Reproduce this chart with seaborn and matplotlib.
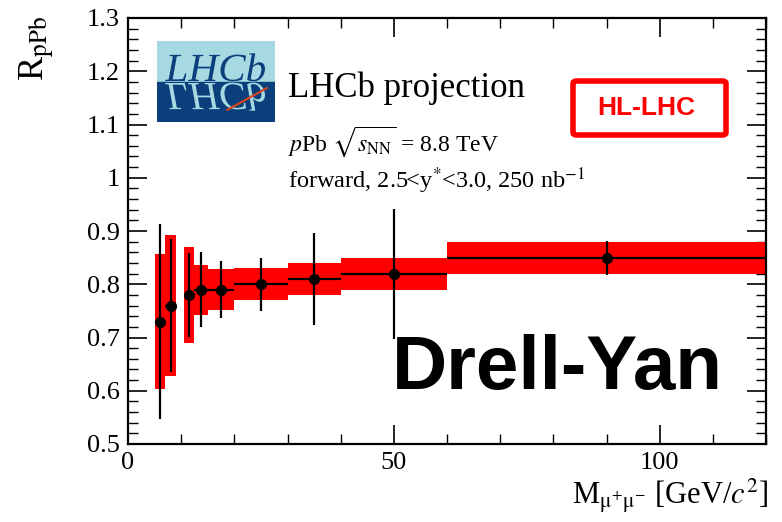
import numpy as np
import pandas as pd
import matplotlib
matplotlib.use("Agg")
import matplotlib.pyplot as plt
import seaborn as sns
from matplotlib.patches import Rectangle, FancyBboxPatch, PathPatch
from matplotlib.textpath import TextPath
from matplotlib.font_manager import FontProperties
from matplotlib.ticker import MultipleLocator
import matplotlib.transforms as mtransforms

# ---- data ----
mass = [6.0, 8.0, 11.5, 13.7, 17.5, 25.0, 35.0, 50.0, 90.0]
bin_lo = [5.0, 7.0, 10.5, 12.5, 15.0, 20.0, 30.0, 40.0, 60.0]
bin_hi = [7.0, 9.0, 12.5, 15.0, 20.0, 30.0, 40.0, 60.0, 120.0]
rppb = [0.73, 0.76, 0.78, 0.79, 0.79, 0.80, 0.81, 0.82, 0.85]
stat_err = [0.183, 0.125, 0.079, 0.070, 0.053, 0.050, 0.086, 0.122, 0.032]
syst_err = [0.127, 0.132, 0.090, 0.047, 0.038, 0.030, 0.030, 0.030, 0.030]

df = pd.DataFrame({"mass": mass, "lo": bin_lo, "hi": bin_hi, "r": rppb,
                   "stat": stat_err, "syst": syst_err})

sns.set_theme(style="ticks")
plt.rcParams["font.family"] = ["Liberation Serif", "DejaVu Serif"]
plt.rcParams["mathtext.fontset"] = "stix"
plt.rcParams["text.color"] = "black"
plt.rcParams["xtick.color"] = "black"
plt.rcParams["ytick.color"] = "black"
plt.rcParams["xtick.labelcolor"] = "black"
plt.rcParams["ytick.labelcolor"] = "black"

fig = plt.figure(figsize=(7.82, 5.22), dpi=100)
ax = fig.add_axes([128/782, 78/522, (766-128)/782, (444-18)/522])

# systematic boxes
ax.bar(df["lo"], 2*df["syst"], width=df["hi"]-df["lo"], bottom=df["r"]-df["syst"],
       align="edge", color="#ff0000", edgecolor="none", zorder=1)
# stat error bars and bin widths
ax.errorbar(df["mass"], df["r"], yerr=df["stat"],
            xerr=[df["mass"]-df["lo"], df["hi"]-df["mass"]],
            fmt="none", ecolor="black", elinewidth=1.6, capsize=0, zorder=2)
sns.scatterplot(data=df, x="mass", y="r", ax=ax, color="black", s=55,
                edgecolor="black", zorder=3, legend=False)

ax.set_xlim(0, 120)
ax.set_ylim(0.5, 1.3)
ax.xaxis.set_major_locator(MultipleLocator(50))
ax.xaxis.set_minor_locator(MultipleLocator(10))
ax.yaxis.set_major_locator(MultipleLocator(0.1))
ax.yaxis.set_minor_locator(MultipleLocator(0.02))
ax.tick_params(which="both", direction="in", top=True, right=True, color="black",
               labelcolor="black")
ax.tick_params(which="major", length=14, width=1.2, labelsize=19, pad=6)
ax.tick_params(which="minor", length=7, width=1.0)
for s in ax.spines.values():
    s.set_linewidth(1.6)
    s.set_color("black")
ax.set_yticks([0.5, 0.6, 0.7, 0.8, 0.9, 1.0, 1.1, 1.2, 1.3])
ax.set_yticklabels(["0.5", "0.6", "0.7", "0.8", "0.9", "1", "1.1", "1.2", "1.3"])
ax.set_xlabel("")
ax.set_ylabel("")

fig.text(18/782, 1 - 16/522, r"R$_{\mathrm{pPb}}$", rotation=90, fontsize=26,
         ha="left", va="top")
fig.text(768/782, 1 - 515/522, r"M$_{\mathrm{\mu^{+}\mu^{-}}}$ [GeV/$c^{2}$]",
         fontsize=22, ha="right", va="bottom")

# texts
fig.text(288/782, 1 - 97/522, "LHCb projection", fontsize=25, ha="left", va="baseline")
fig.text(288/782, 1 - 151/522, r"$p$Pb $\sqrt{s_{\mathrm{NN}}}$ = 8.8 TeV",
         fontsize=17, ha="left", va="baseline")
fig.text(288/782, 1 - 188/522, r"forward, 2.5<y$^{*}$<3.0, 250 nb$^{-1}$",
         fontsize=17.5, ha="left", va="baseline")

fig.text(557/782, 1 - 370/522, "Drell-Yan", fontsize=55, fontweight="bold",
         family="Liberation Sans", color="black", ha="center", va="center")

# HL-LHC box
hl = FancyBboxPatch((573/782, 1 - 135/522), (726-573)/782, (135-81)/522,
                    boxstyle="round,pad=0,rounding_size=0.005",
                    transform=fig.transFigure, facecolor="white",
                    edgecolor="#ff0000", linewidth=4, zorder=5)
fig.patches.append(hl)
fig.text(646/782, 1 - 108/522, "HL-LHC", fontsize=19, fontweight="bold",
         family="Liberation Sans", color="#ff0000", ha="center", va="center", zorder=6)

# LHCb logo
lax = fig.add_axes([157/782, 1 - 122/522, (275-157)/782, (122-41)/522])
lax.set_xlim(0, 118)
lax.set_ylim(0, 81)
lax.axis("off")
lax.add_patch(Rectangle((0, 40), 118, 41, color="#a7d9e2", zorder=0))
lax.add_patch(Rectangle((0, 0), 118, 40, color="#0a3f7c", zorder=0))
fp = FontProperties(family="Liberation Serif", style="italic")
tp = TextPath((0, 0), "LHCb", size=42, prop=fp)
bb = tp.get_extents()
sx = 100 / bb.width
tr_up = mtransforms.Affine2D().scale(sx, 0.95).translate(8 - bb.x0*sx, 41)
tr_dn = mtransforms.Affine2D().scale(sx, -0.95).translate(8 - bb.x0*sx, 39)
lax.add_patch(PathPatch(tr_up.transform_path(tp), facecolor="#0a3f7c",
                        edgecolor="none", zorder=2))
lax.add_patch(PathPatch(tr_dn.transform_path(tp), facecolor="#a7d9e2",
                        edgecolor="none", zorder=2))
lax.plot([70, 110], [12, 34], color="#d9451f", lw=1.5, zorder=3)

fig.savefig("out.png", dpi=100)
